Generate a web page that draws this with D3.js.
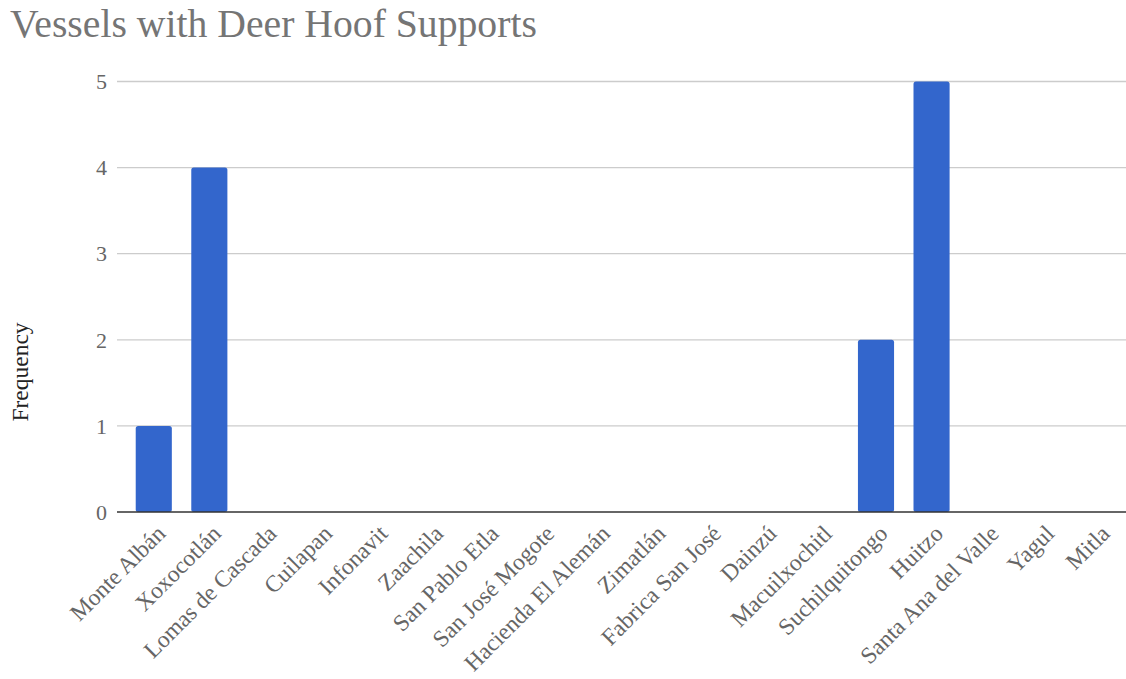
<!DOCTYPE html>
<html>
<head>
<meta charset="utf-8">
<script src="https://cdn.jsdelivr.net/npm/d3@7"></script>
<style>
  html, body { margin: 0; padding: 0; background: #fff; }
  svg { display: block; }
</style>
</head>
<body>
<svg id="chart" width="1126" height="679"></svg>
<script>
// Sites and counts of vessels with deer hoof supports
const sites = [
  "Monte Albán", "Xoxocotlán", "Lomas de Cascada", "Cuilapan", "Infonavit",
  "Zaachila", "San Pablo Etla", "San José Mogote", "Hacienda El Alemán",
  "Zimatlán", "Fabrica San José", "Dainzú", "Macuilxochitl", "Suchilquitongo",
  "Huitzo", "Santa Ana del Valle", "Yagul", "Mitla"
];
const frequency = [1, 4, 0, 0, 0, 0, 0, 0, 0, 0, 0, 0, 0, 2, 5, 0, 0, 0];
const yTicks = [0, 1, 2, 3, 4, 5];

const chartTitle = "Vessels with Deer Hoof Supports";
const yTitle = "Frequency";

const plot = { left: 117, right: 1126, top: 81.5, bottom: 512 };
const serif = "'Liberation Serif', 'Times New Roman', serif";

const svg = d3.select("#chart");

const x = d3.scaleBand()
  .domain(sites)
  .range([126, plot.right])
  .paddingInner(0.35)
  .paddingOuter(0.175);

const y = d3.scaleLinear()
  .domain([0, 5])
  .range([plot.bottom, plot.top]);

// Horizontal gridlines
svg.append("g")
  .selectAll("line")
  .data(yTicks.filter(d => d > 0))
  .join("line")
  .attr("x1", plot.left)
  .attr("x2", plot.right)
  .attr("y1", d => y(d))
  .attr("y2", d => y(d))
  .attr("stroke", "#cccccc")
  .attr("stroke-width", 1.3);

// Y axis labels
const yAxis = d3.axisLeft(y).tickValues(yTicks).tickFormat(d3.format("d")).tickSize(0).tickPadding(0);
svg.append("g")
  .attr("transform", `translate(${plot.left - 10},0)`)
  .call(yAxis)
  .call(g => g.select(".domain").remove())
  .call(g => g.selectAll("text")
    .attr("font-family", serif)
    .attr("font-size", 22)
    .attr("fill", "#666")
    .attr("dy", "0.33em"));

// Bars
svg.append("g")
  .selectAll("rect")
  .data(sites.map((s, i) => ({ site: s, value: frequency[i] })).filter(d => d.value > 0))
  .join("rect")
  .attr("x", d => x(d.site))
  .attr("width", x.bandwidth())
  .attr("y", d => y(d.value))
  .attr("height", d => y(0) - y(d.value))
  .attr("rx", 2.5)
  .attr("fill", "#3366cc");

// Baseline
svg.append("line")
  .attr("x1", plot.left)
  .attr("x2", plot.right)
  .attr("y1", y(0))
  .attr("y2", y(0))
  .attr("stroke", "#333")
  .attr("stroke-width", 1.6);

// Rotated category labels
const xAxis = d3.axisBottom(x).tickSize(0).tickPadding(0);
svg.append("g")
  .attr("transform", `translate(0,${plot.bottom})`)
  .call(xAxis)
  .call(g => g.select(".domain").remove())
  .call(g => g.selectAll("text")
    .attr("font-family", serif)
    .attr("font-size", 23.5)
    .attr("fill", "#666")
    .attr("text-anchor", "end")
    .attr("dy", null)
    .attr("y", 0)
    .attr("transform", "translate(13,23) rotate(-45)"));

// Y axis title
svg.append("text")
  .attr("transform", `translate(28,372) rotate(-90)`)
  .attr("text-anchor", "middle")
  .attr("font-family", serif)
  .attr("font-size", 23.5)
  .attr("fill", "#222")
  .text(yTitle);

// Chart title
svg.append("text")
  .attr("x", 10)
  .attr("y", 37)
  .attr("font-family", serif)
  .attr("font-size", 39.7)
  .attr("fill", "#757575")
  .text(chartTitle);
</script>
</body>
</html>
